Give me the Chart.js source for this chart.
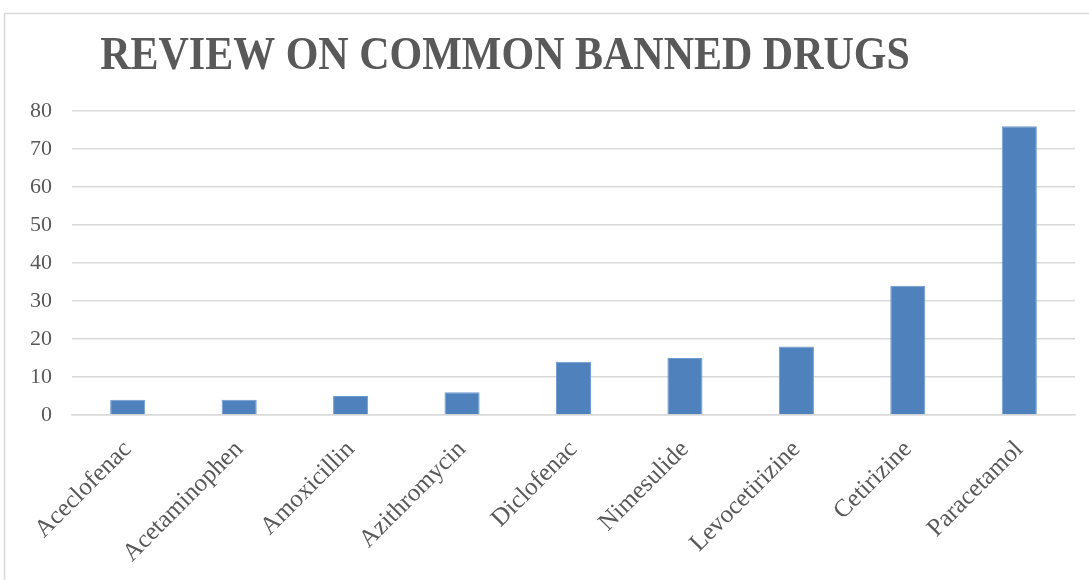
<!DOCTYPE html>
<html>
<head>
<meta charset="utf-8">
<script src="https://cdn.jsdelivr.net/npm/chart.js@4/dist/chart.umd.min.js"></script>
<style>
html,body{margin:0;padding:0;background:#fff;}
#wrap{width:1089px;height:580px;position:relative;}
</style>
</head>
<body>
<div id="wrap"><canvas id="c" width="1089" height="580"></canvas></div>
<script>
const titleText = "REVIEW ON COMMON BANNED DRUGS";
const categories = ["Aceclofenac","Acetaminophen","Amoxicillin","Azithromycin","Diclofenac","Nimesulide","Levocetirizine","Cetirizine","Paracetamol"];
const values = [4, 4, 5, 6, 14, 15, 18, 34, 76];
const yTicks = [0,10,20,30,40,50,60,70,80];

const decorPlugin = {
  id: 'decor',
  beforeDraw(chart) {
    const ctx = chart.ctx;
    ctx.save();
    ctx.fillStyle = '#fff';
    ctx.fillRect(0,0,chart.width,chart.height);
    ctx.strokeStyle = '#d9d9d9';
    ctx.lineWidth = 1.5;
    ctx.strokeRect(4.5, 13.5, chart.width + 10, chart.height + 10);
    ctx.restore();
  },
  afterDraw(chart) {
    const ctx = chart.ctx;
    ctx.save();
    ctx.fillStyle = '#595959';
    ctx.font = 'bold 42px "Liberation Serif"';
    ctx.textAlign = 'center';
    ctx.textBaseline = 'alphabetic';
    ctx.translate(505, 69);
    ctx.scale(1, 1.12);
    ctx.fillText(titleText, 0, 0);
    ctx.restore();
  }
};

new Chart(document.getElementById('c'), {
  type: 'bar',
  data: {
    labels: categories,
    datasets: [{
      data: values,
      backgroundColor: '#4f81bd',
      borderColor: '#6f9bd0',
      borderWidth: 1,
      barPercentage: 0.63,
      categoryPercentage: 0.5
    }]
  },
  options: {
    responsive: false,
    animation: false,
    devicePixelRatio: 1,
    layout: { padding: { left: 10, right: 14, top: 111, bottom: 0 } },
    plugins: {
      legend: { display: false },
      tooltip: { enabled: false },
      title: { display: false }
    },
    scales: {
      x: {
        grid: { display: false, drawTicks: false },
        border: { display: true, color: '#d9d9d9', width: 1.5 },
        afterFit(axis) { axis.height = 165; },
        ticks: {
          color: '#595959',
          font: { family: 'Liberation Serif', size: 25 },
          maxRotation: 45, minRotation: 45,
          padding: 20,
          autoSkip: false
        }
      },
      y: {
        min: 0, max: 80,
        afterBuildTicks(axis) { axis.ticks = yTicks.map(v => ({ value: v })); },
        grid: { color: '#d9d9d9', lineWidth: 1.5, drawTicks: false },
        border: { display: false },
        ticks: {
          color: '#595959',
          font: { family: 'Liberation Serif', size: 22 },
          padding: 20
        }
      }
    }
  },
  plugins: [decorPlugin]
});
</script>
</body>
</html>
